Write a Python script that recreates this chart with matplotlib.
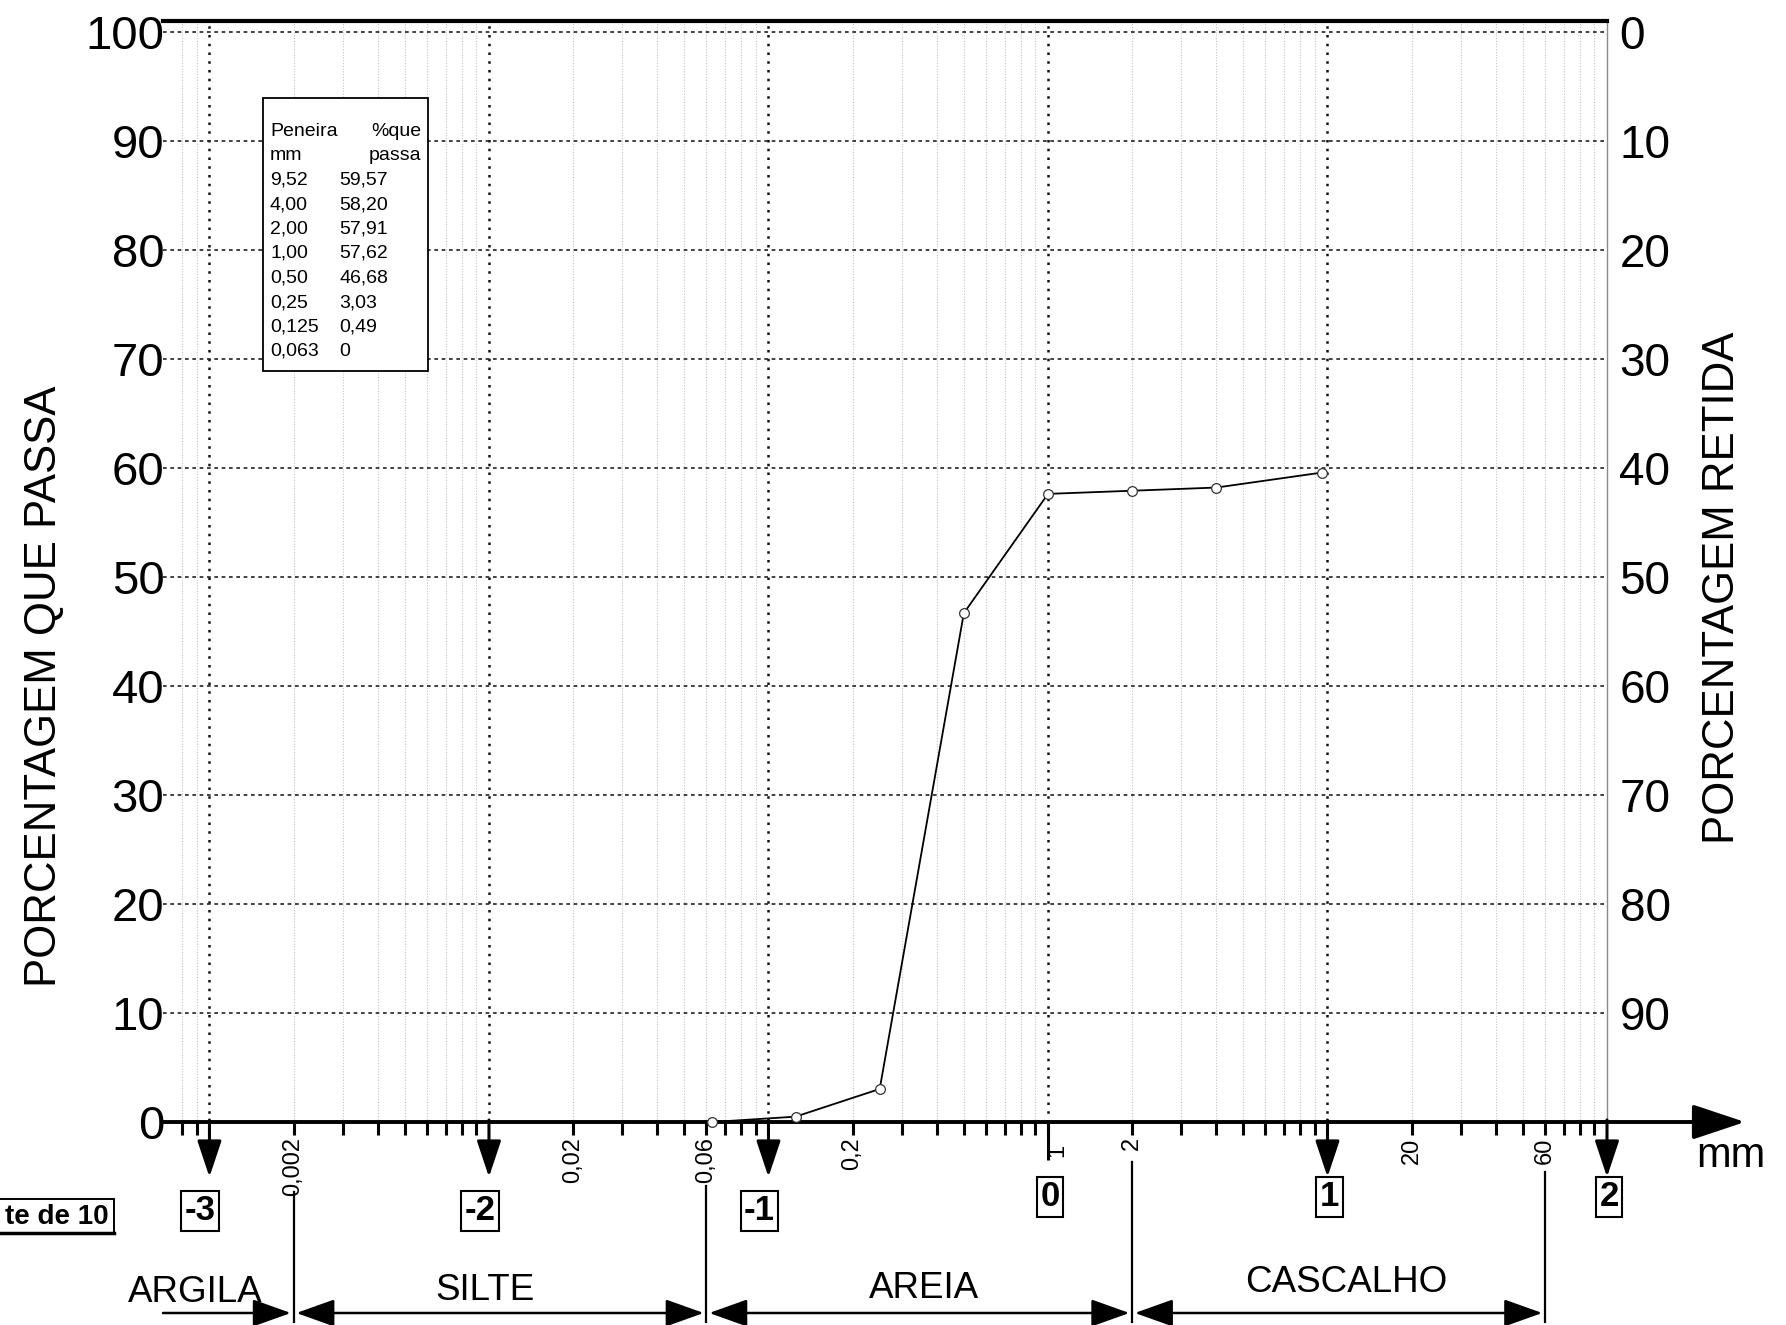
import math
import matplotlib
matplotlib.use("Agg")
import matplotlib.pyplot as plt
import matplotlib.transforms as mtransforms
from matplotlib.patches import Rectangle
from matplotlib import font_manager

# ---------------- data ----------------
sieve_mm = [9.52, 4.00, 2.00, 1.00, 0.50, 0.25, 0.125, 0.063]
pct_passing = [59.57, 58.20, 57.91, 57.62, 46.68, 3.03, 0.49, 0.0]
sieve_labels = ["9,52", "4,00", "2,00", "1,00", "0,50", "0,25", "0,125", "0,063"]
passing_labels = ["59,57", "58,20", "57,91", "57,62", "46,68", "3,03", "0,49", "0"]

x_tick_values = [0.002, 0.02, 0.06, 0.2, 1, 2, 20, 60]
x_tick_labels = ["0,002", "0,02", "0,06", "0,2", "1", "2", "20", "60"]
y_ticks = [0, 10, 20, 30, 40, 50, 60, 70, 80, 90, 100]
retained_ticks = [0, 10, 20, 30, 40, 50, 60, 70, 80, 90]
phi_exponents = [-3, -2, -1, 0, 1, 2]
class_names = ["ARGILA", "SILTE", "AREIA", "CASCALHO"]
class_bounds = [0.002, 0.06, 2, 60]

# ---------------- fonts ----------------
names = {f.name for f in font_manager.fontManager.ttflist}
BASE = ["Liberation Sans", "DejaVu Sans"]
HAS_NARROW = "Liberation Sans Narrow" in names
NARROW = ["Liberation Sans Narrow", "Liberation Sans", "DejaVu Sans"]
plt.rcParams["font.family"] = BASE
nsz = 31 if HAS_NARROW else 26.5
bsz = 29 if HAS_NARROW else 25

W, H = 1786, 1325
fig = plt.figure(figsize=(W / 100, H / 100), dpi=100)
fig.patch.set_facecolor("white")


def fx(px):
    return px / W


def fy(py):
    return 1 - py / H


XMIN, XMAX = 0.000682, 100
ax = fig.add_axes([fx(163), fy(1122), fx(1607) - fx(163), fy(21) - fy(1122)])
ax.set_xscale("log")
ax.set_xlim(XMIN, XMAX)
ax.set_ylim(0, 101)

# spines
ax.spines["left"].set_visible(False)
ax.spines["right"].set_color("#8a8a8a")
ax.spines["right"].set_linewidth(1.0)
ax.spines["top"].set_linewidth(3.0)
ax.spines["bottom"].set_linewidth(2.8)

# grid
decades = [10.0 ** k for k in range(-3, 2)]
minors = []
for k in range(-4, 2):
    for n in range(2, 10):
        v = n * 10.0 ** k
        if XMIN * 1.1 < v < XMAX:
            minors.append(v)
for v in minors:
    ax.axvline(v, color="#c4c4c4", lw=0.8, ls=(0, (1, 1.5)), zorder=0.5)
for v in decades:
    ax.axvline(v, color="#111111", lw=1.8, ls=(0, (1, 2.5)), zorder=0.8)
for v in y_ticks[1:]:
    ax.axhline(v, color="#222222", lw=1.2, ls=(0, (2.2, 2.2)), zorder=0.9)

# y ticks left
ax.set_yticks(y_ticks)
ax.tick_params(axis="y", which="both", length=0, pad=-1, labelsize=34)

# x ticks
ax.xaxis.set_major_locator(matplotlib.ticker.FixedLocator(x_tick_values))
ax.xaxis.set_major_formatter(matplotlib.ticker.FixedFormatter(x_tick_labels))
minor_ticks = [v for v in minors if all(abs(v - t) / t > 1e-6 for t in x_tick_values)]
ax.xaxis.set_minor_locator(matplotlib.ticker.FixedLocator(minor_ticks))
ax.xaxis.set_minor_formatter(matplotlib.ticker.NullFormatter())
ax.tick_params(axis="x", which="both", direction="out", length=9, width=2.2,
               color="k")
ax.tick_params(axis="x", which="major", pad=2, labelsize=17, labelrotation=90)

# right axis: percent retained
ax2 = ax.twinx()
ax2.set_ylim(100, -1)
ax2.set_yticks(retained_ticks)
for s in ax2.spines.values():
    s.set_visible(False)
ax2.tick_params(axis="y", length=0, pad=9, labelsize=33)

# data curve
ax.plot(sieve_mm, pct_passing, "-", color="k", lw=1.3, marker="o", ms=7,
        mfc="white", mec="#333333", mew=0.9, zorder=3, clip_on=False)

# blended transforms
blend_af = mtransforms.blended_transform_factory(ax.transData, ax.transAxes)
blend_ff = mtransforms.blended_transform_factory(ax.transData, fig.transFigure)

# long tick at 1 mm, and its label nudged to the right
ax.plot([1, 1], [0, -38 / 1101], transform=blend_af, color="k", lw=2.2,
        clip_on=False, solid_capstyle="butt")
fig.canvas.draw()
for tick in ax.xaxis.get_major_ticks():
    if abs(tick.get_loc() - 1) < 1e-9:
        lbl = tick.label1
        lbl.set_transform(lbl.get_transform() +
                          mtransforms.ScaledTranslation(9 / 100, -7 / 100,
                                                        fig.dpi_scale_trans))

# decade arrows pointing down
for e in phi_exponents:
    v = 10.0 ** e
    if e == 0:
        continue
    ax.annotate("", xy=(v, fy(1177)), xycoords=blend_ff,
                xytext=(v, fy(1120)), textcoords=blend_ff,
                arrowprops=dict(arrowstyle="-|>,head_length=0.75,head_width=0.25",
                                mutation_scale=30, lw=2.2, color="k",
                                shrinkA=0, shrinkB=0), annotation_clip=False)

# exponent boxes (scan is slightly tilted: negative ones sit a bit lower)
for e in phi_exponents:
    v = 10.0 ** e
    dx = -9 if e < 0 else 2
    ypx = 1211 if e < 0 else 1197
    tr = blend_ff + mtransforms.ScaledTranslation(dx / 100, 0, fig.dpi_scale_trans)
    ax.text(v, fy(ypx), f"{e}", transform=tr,
            ha="center", va="center", fontsize=bsz, fontweight="bold",
            family=NARROW,
            bbox=dict(boxstyle="square,pad=0.1", fc="white", ec="k", lw=1.5))

# x axis extension arrow
ax.annotate("", xy=(fx(1745), fy(1122)), xycoords="figure fraction",
            xytext=(fx(1600), fy(1122)), textcoords="figure fraction",
            arrowprops=dict(arrowstyle="-|>,head_length=0.9,head_width=0.3",
                            mutation_scale=36, lw=2.8, color="k",
                            shrinkA=0, shrinkB=0))
fig.text(fx(1731), fy(1156), "mm", ha="center", va="center", fontsize=30)

# class dividers
divider_tops = [1192, 1186, 1162, 1172]
for b, t in zip(class_bounds, divider_tops):
    ax.plot([b, b], [fy(t), fy(1322)], transform=blend_ff, color="k",
            lw=1.6, clip_on=False)

# class arrows and names
arrow_y = fy(1313)
name_dx = [-33, -15, 5, 8]
name_y = [1292, 1290, 1288, 1283]
starts = [XMIN] + class_bounds[:-1]
ends = class_bounds
for i, (name, a, b) in enumerate(zip(class_names, starts, ends)):
    style = "-|>" if i == 0 else "<|-|>"
    ax.annotate("", xy=(b, arrow_y), xycoords=blend_ff,
                xytext=(a, arrow_y), textcoords=blend_ff,
                arrowprops=dict(arrowstyle=style + ",head_length=0.7,head_width=0.25",
                                mutation_scale=34, lw=1.8, color="k",
                                shrinkA=2 if i else 0, shrinkB=2),
                annotation_clip=False)
    mid = 10 ** ((math.log10(a) + math.log10(b)) / 2)
    tr = blend_ff + mtransforms.ScaledTranslation(name_dx[i] / 100, 0,
                                                  fig.dpi_scale_trans)
    ax.text(mid, fy(name_y[i]), name, transform=tr, ha="center", va="center",
            fontsize=nsz, family=NARROW)

# axis titles
fig.text(fx(45), fy(686), "PORCENTAGEM QUE PASSA", rotation=90, ha="center",
         va="center", fontsize=31.5)
fig.text(fx(1722), fy(588), "PORCENTAGEM RETIDA", rotation=90, ha="center",
         va="center", fontsize=31.5)

# fragment label at bottom-left
fig.text(fx(109), fy(1217), "te de 10", ha="right", va="center", fontsize=20,
         fontweight="bold", family=NARROW)
fig.add_artist(Rectangle((fx(-5), fy(1234)), fx(119), fy(1199) - fy(1234),
                         transform=fig.transFigure, fill=False, ec="k", lw=1.4))
fig.add_artist(matplotlib.lines.Line2D([fx(0), fx(114)], [fy(1233), fy(1233)],
                                       transform=fig.transFigure, color="k", lw=2.5))

# data table box
fig.add_artist(Rectangle((fx(263), fy(371)), fx(428) - fx(263), fy(98) - fy(371),
                         transform=fig.transFigure, fc="white", ec="k", lw=1.3,
                         zorder=5))
tsz = 14
row0, dy = 131, 24.5
fig.text(fx(270), fy(row0), "Peneira", ha="left", va="center", fontsize=tsz, zorder=6)
fig.text(fx(421), fy(row0), "%que", ha="right", va="center", fontsize=tsz, zorder=6)
fig.text(fx(270), fy(row0 + dy), "mm", ha="left", va="center", fontsize=tsz, zorder=6)
fig.text(fx(421), fy(row0 + dy), "passa", ha="right", va="center", fontsize=tsz, zorder=6)
for i, (s, p) in enumerate(zip(sieve_labels, passing_labels)):
    yy = fy(row0 + dy * (i + 2))
    fig.text(fx(270), yy, s, ha="left", va="center", fontsize=tsz, zorder=6)
    fig.text(fx(339), yy, p, ha="left", va="center", fontsize=tsz, zorder=6)

fig.savefig("out.png", dpi=100, facecolor="white")
